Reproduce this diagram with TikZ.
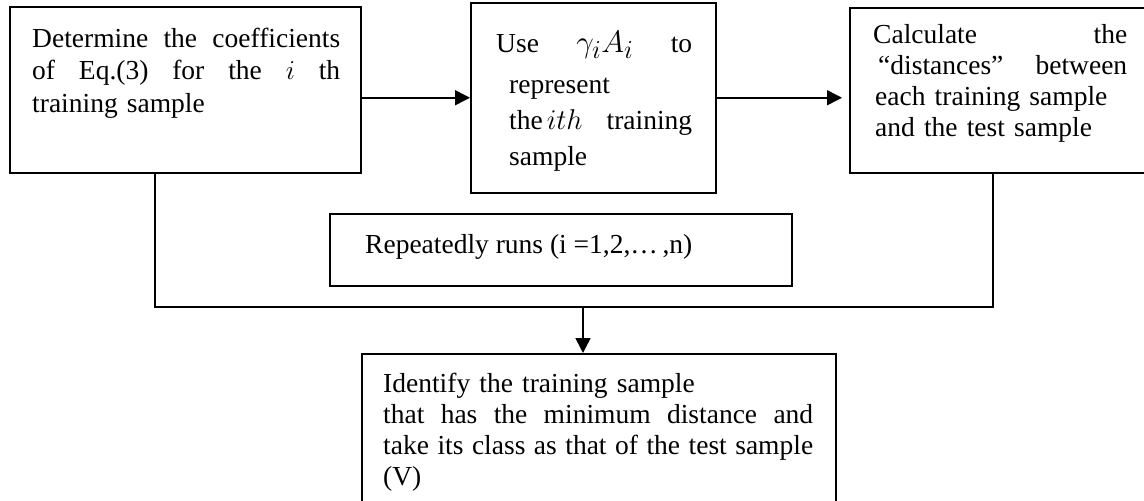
\documentclass[tikz,border=0pt]{standalone}
\usepackage{fontspec}
\setmainfont{Liberation Serif}
\usetikzlibrary{arrows.meta,calc}
\begin{document}
\begin{tikzpicture}[x=1pt,y=-1pt,
  stepbox/.style={draw, line width=1.5pt, rectangle, inner sep=0pt, anchor=north west},
  txt/.style={anchor=base west, inner sep=0pt, align=left},
  flow/.style={line width=1.5pt},
  tip/.style={-{Triangle[length=15pt,width=15pt]}}]
\useasboundingbox (0,0) rectangle (1144,501);
\clip (0,0) rectangle (1144,501);

% process boxes
\node[stepbox, minimum width=351pt, minimum height=166pt] (b1) at (9,6) {};
\node[stepbox, minimum width=245pt, minimum height=190pt] (b2) at (470,2) {};
\node[stepbox, minimum width=310pt, minimum height=165pt] (b3) at (849,7) {};
\node[stepbox, minimum width=462pt, minimum height=72pt] (rep) at (329,213) {};
\node[stepbox, minimum width=474pt, minimum height=160pt] (b5) at (361,353) {};

% box texts
\node[txt, text width=308pt, font=\fontsize{27.5}{32.5}\selectfont] (t1) at (32,47)
  {Determine\hfill the\hfill coefficients\\
   of\hfill Eq.(3)\hfill for\hfill the\hfill \scalebox{1.1}{$i$}\hfill th\\
   training sample};
\node[txt, text width=183pt, font=\fontsize{27.5}{36}\selectfont] (t2) at (509,52)
  {\hspace*{-13pt}Use\hfill\scalebox{1.25}{$\gamma_i A_i$}\hfill to\\[5pt]
   represent\\
   the\hspace{4pt}\scalebox{1.15}{$ith$}\hfill training\\
   sample};
\node[txt, text width=252pt, font=\fontsize{27.5}{31.3}\selectfont] (t3) at (875,43)
  {\hspace*{-2pt}Calculate\hfill the\\
   \hspace*{3pt}“distances”\hfill between\\
   each training sample\\
   and the test sample};
\node[txt, font=\fontsize{27.5}{31}\selectfont] (trep) at (365,253)
  {Repeatedly runs (i =1,2,…\,,n)};
\node[txt, text width=430pt, font=\fontsize{27.5}{31}\selectfont] (t5) at (383,392)
  {Identify the training sample\\
   that\hfill has\hfill the\hfill minimum\hfill distance\hfill and\\
   take\hfill its\hfill class\hfill as\hfill that\hfill of\hfill the\hfill test\hfill sample\\
   (V)};

% connectors
\coordinate (jl) at (155,307);
\coordinate (jr) at (993,307);
\coordinate (jm) at (583,307);
\draw[flow,tip] (b2.west -| b1.east) -- (b2.west);
\draw[flow,tip,shorten >=7pt] (b2.east) -- (b2.east -| b3.west);
\draw[flow] (b1.south -| jl) -- (jl) -- (jr) -- (b3.south -| jr);
\draw[flow,tip] (jm) -- (jm |- b5.north);
\end{tikzpicture}
\end{document}
